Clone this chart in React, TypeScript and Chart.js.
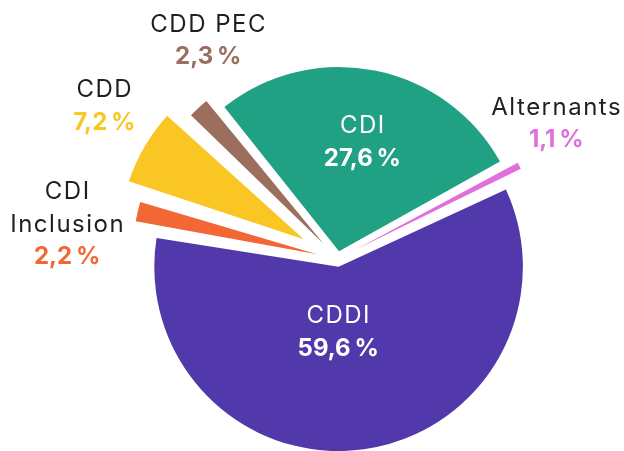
import React, { useEffect, useRef } from "react";
import { Chart, registerables } from "chart.js";

Chart.register(...registerables);

// ---- data ----
const categories = ["CDI", "Alternants", "CDDI", "CDI Inclusion", "CDD", "CDD PEC"];
const nameLines = [["CDI"], ["Alternants"], ["CDDI"], ["CDI", "Inclusion"], ["CDD"], ["CDD PEC"]];
const shares = [27.6, 1.1, 59.6, 2.2, 7.2, 2.3];

// ---- styles ----
const colors = ["#21a184", "#e06fdc", "#5239ab", "#f26735", "#fac624", "#9b6e5d"];
const sliceShift = [7.85, 20, 7.85, 21, 39, 21]; // px the slice is pulled out
const insideLabel = [true, false, true, false, false, false];
const labelPlacement = [
  { k: 0.603, dx: 1.5, dy: 0 },
  { k: 1, dx: 36.7, dy: -42.1 },
  { k: 0.351, dx: -9.5, dy: 1.3 },
  { k: 1, dx: -70.8, dy: 13 },
  { k: 1, dx: -40.6, dy: -40.3 },
  { k: 1, dx: 9.5, dy: -67.2 },
];
const RADIUS = 184.3;
const FONT = "Inter, 'Open Sans', sans-serif";
const FONT_SIZE = 24;
const LINE_H = 32.5;

const fmt = (v: number) => v.toFixed(1).replace(".", ",") + "\u202F%";

const fixRadiusPlugin = {
  id: "fixRadius",
  beforeDatasetsDraw(chart: any) {
    const meta = chart.getDatasetMeta(0);
    meta.data.forEach((arc: any, i: number) => {
      const circ = arc.endAngle - arc.startAngle;
      const fix = 1 - Math.sin(Math.min(Math.PI, circ));
      arc.outerRadius = RADIUS - sliceShift[i] * fix;
    });
  },
};

const labelPlugin = {
  id: "sliceLabels",
  afterDatasetsDraw(chart: any) {
    const ctx = chart.ctx as any;
    const meta = chart.getDatasetMeta(0);
    meta.data.forEach((arc: any, i: number) => {
      const { x, y, startAngle, endAngle } = arc;
      const mid = (startAngle + endAngle) / 2;
      const vx = x + Math.cos(mid) * sliceShift[i];
      const vy = y + Math.sin(mid) * sliceShift[i];
      const p = labelPlacement[i];
      const d = p.k * RADIUS;
      const cx = vx + Math.cos(mid) * d + p.dx;
      const cy = vy + Math.sin(mid) * d + p.dy;
      const lines = [
        ...nameLines[i].map((t) => ({ t, bold: false })),
        { t: fmt(shares[i]), bold: true },
      ];
      const y0 = cy - ((lines.length - 1) * LINE_H) / 2;
      ctx.save();
      ctx.textAlign = "center";
      ctx.textBaseline = "middle";
      lines.forEach((ln, j) => {
        ctx.font = `${ln.bold ? "700" : "400"} ${FONT_SIZE}px ${FONT}`;
        const ls = ln.bold ? 0.5 : 1.5;
        ctx.letterSpacing = ls + "px";
        if (insideLabel[i]) ctx.fillStyle = "#ffffff";
        else ctx.fillStyle = ln.bold ? colors[i] : "#1f1f1f";
        ctx.fillText(ln.t, cx + ls / 2, y0 + j * LINE_H);
      });
      ctx.restore();
    });
  },
};

export default function App() {
  const ref = useRef<HTMLCanvasElement | null>(null);
  useEffect(() => {
    if (!ref.current) return;
    const chart = new Chart(ref.current, {
      type: "pie",
      data: {
        labels: categories,
        datasets: [
          {
            data: shares,
            backgroundColor: colors,
            borderWidth: 0,
            offset: sliceShift.map((s) => s * 4),
            hoverOffset: 0,
            clip: false as any,
          },
        ],
      },
      options: {
        animation: false,
        responsive: true,
        maintainAspectRatio: false,
        rotation: -38.5,
        radius: RADIUS,
        layout: { padding: { left: 51, right: 0, top: 67, bottom: 0 } },
        plugins: { legend: { display: false }, tooltip: { enabled: false } },
        events: [],
      } as any,
      plugins: [fixRadiusPlugin, labelPlugin],
    });
    return () => chart.destroy();
  }, []);
  return (
    <div style={{ position: "fixed", left: 0, top: 0, width: 624, height: 451, background: "#fff" }}>
      <canvas ref={ref} />
    </div>
  );
}
